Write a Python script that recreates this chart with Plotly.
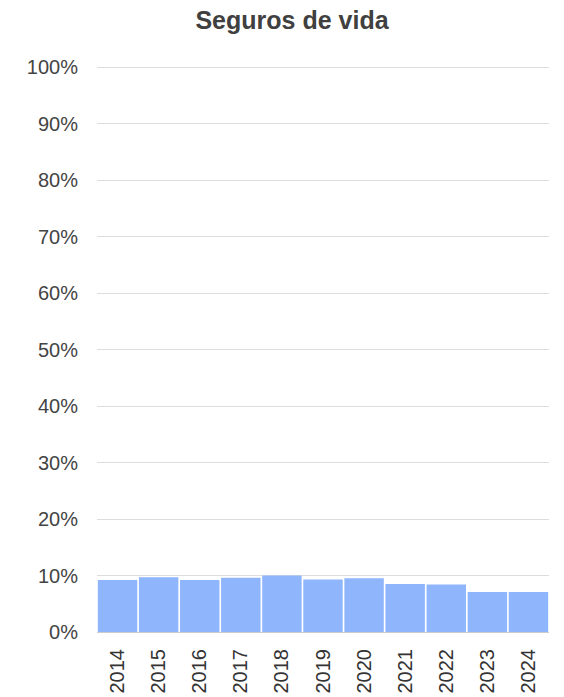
import plotly.graph_objects as go

# Share of life insurance per year
years = ["2014", "2015", "2016", "2017", "2018", "2019", "2020", "2021", "2022", "2023", "2024"]
share = [0.092, 0.097, 0.092, 0.096, 0.100, 0.093, 0.095, 0.085, 0.084, 0.071, 0.071]
y_ticks = [i / 10 for i in range(11)]

fig = go.Figure(
    go.Bar(
        x=years,
        y=share,
        marker=dict(color="#8FB5FD", line=dict(width=0)),
        hoverinfo="x+y",
    )
)

fig.update_layout(
    width=564,
    height=697,
    margin=dict(l=97, r=15, t=66, b=65),
    paper_bgcolor="white",
    plot_bgcolor="white",
    bargap=0.04,
    showlegend=False,
    font=dict(family="Liberation Sans, Arial, sans-serif", color="#444444", size=20),
    title=dict(
        text="<b>Seguros de vida</b>",
        x=292 / 564,
        xanchor="center",
        y=1 - 20 / 697,
        yanchor="middle",
        font=dict(size=25, color="#404040"),
    ),
)

fig.update_xaxes(
    automargin=False,
    tickangle=-90,
    showgrid=False,
    showline=True,
    linecolor="#cccccc",
    linewidth=1,
    ticks="",
    ticklabelstandoff=8,
    tickfont=dict(size=20, color="#333333"),
)

fig.update_yaxes(
    automargin=False,
    range=[0, 1.002],
    tickvals=y_ticks,
    tickformat=".0%",
    showgrid=True,
    gridcolor="#dddddd",
    gridwidth=1,
    zeroline=False,
    ticks="",
    ticklabelstandoff=18,
    tickfont=dict(size=20, color="#444444"),
)

fig.write_html("out.html")
